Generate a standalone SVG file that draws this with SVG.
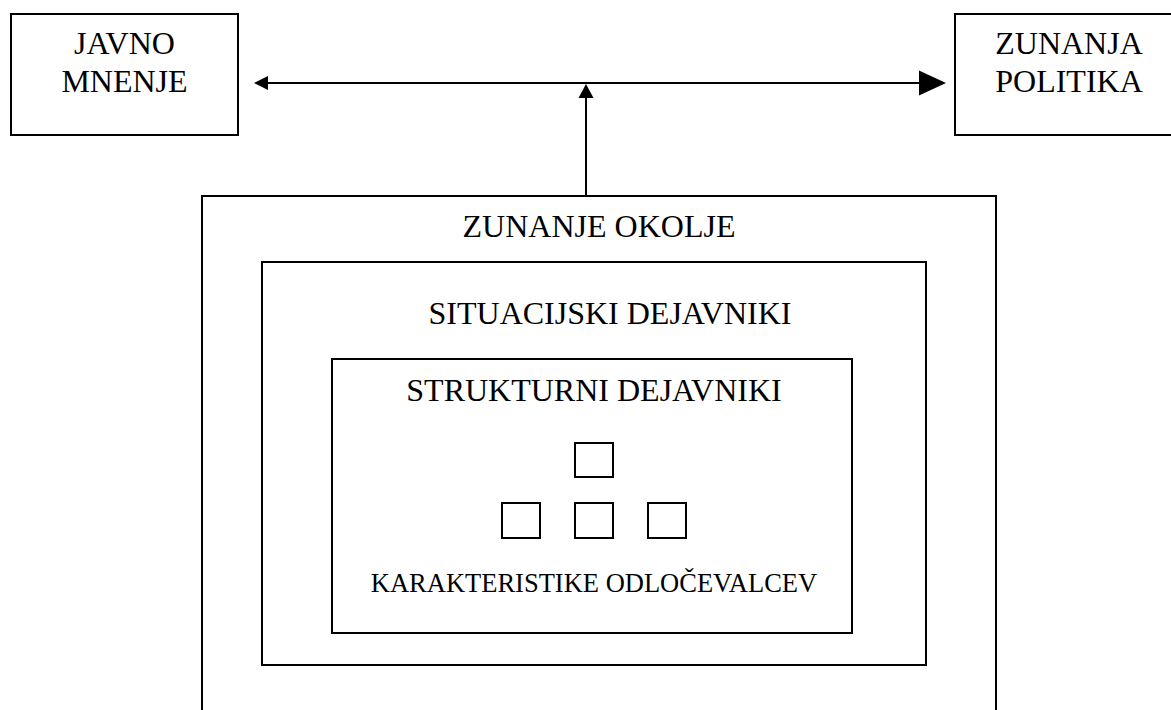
<svg xmlns="http://www.w3.org/2000/svg" width="1171" height="710" viewBox="0 0 1171 710">
  <style>
    .box { fill: none; stroke: #000; stroke-width: 2; }
    .lbl { font-family: "Liberation Serif", "Times New Roman", serif; font-size: 32px; fill: #000; text-anchor: middle; }
    .small { font-size: 26.5px; }
    .conn { stroke: #000; stroke-width: 2; fill: none; }
    .head { fill: #000; stroke: none; }
  </style>
  <rect width="1171" height="710" fill="#fff"/>

  <g id="javno-mnenje">
    <rect class="box" x="11" y="14" width="227" height="121"/>
    <text class="lbl" x="124.5" y="54">JAVNO</text>
    <text class="lbl" x="124.5" y="92">MNENJE</text>
  </g>

  <g id="zunanja-politika">
    <rect class="box" x="955" y="14" width="228" height="121"/>
    <text class="lbl" x="1069" y="54">ZUNANJA</text>
    <text class="lbl" x="1069" y="92">POLITIKA</text>
  </g>

  <g id="zunanje-okolje">
    <rect class="box" x="202" y="196" width="794" height="530"/>
    <text class="lbl" x="599" y="237">ZUNANJE OKOLJE</text>
  </g>

  <g id="situacijski-dejavniki">
    <rect class="box" x="262" y="262" width="664" height="403"/>
    <text class="lbl" x="610" y="324">SITUACIJSKI DEJAVNIKI</text>
  </g>

  <g id="strukturni-dejavniki">
    <rect class="box" x="332" y="359" width="520" height="274"/>
    <text class="lbl" x="594" y="401">STRUKTURNI DEJAVNIKI</text>
  </g>

  <g id="karakteristike-odlocevalcev">
    <rect class="box" x="575" y="443" width="38" height="34"/>
    <rect class="box" x="502" y="503" width="38" height="35"/>
    <rect class="box" x="575" y="503" width="38" height="35"/>
    <rect class="box" x="648" y="503" width="38" height="35"/>
    <text class="lbl small" x="594" y="592">KARAKTERISTIKE ODLOČEVALCEV</text>
  </g>

  <g id="connectors">
    <line class="conn" x1="266" y1="83" x2="921" y2="83"/>
    <polygon class="head" points="254,83 268,76 268,90"/>
    <polygon class="head" points="946,83 919,70.5 919,95.5"/>
    <line class="conn" x1="586" y1="197" x2="586" y2="96"/>
    <polygon class="head" points="586,84 578.5,98 593.5,98"/>
  </g>
</svg>
